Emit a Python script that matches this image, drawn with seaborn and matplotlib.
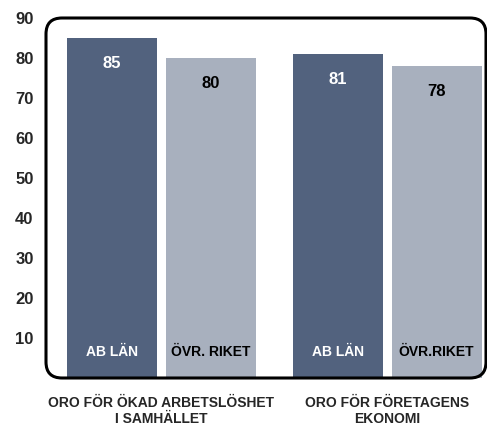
import pandas as pd
import seaborn as sns
import matplotlib.pyplot as plt
from matplotlib.patches import FancyBboxPatch
from matplotlib.transforms import IdentityTransform

categories = ["ORO FÖR ÖKAD ARBETSLÖSHET\nI SAMHÄLLET", "ORO FÖR FÖRETAGENS\nEKONOMI"]
series = ["AB LÄN", "ÖVR. RIKET"]
series_labels = [["AB LÄN", "ÖVR. RIKET"], ["AB LÄN", "ÖVR.RIKET"]]
ab_lan = [85, 81]
ovr_riket = [80, 78]
yticks = [10, 20, 30, 40, 50, 60, 70, 80, 90]

colors = ["#52627E", "#A8B0BE"]
text_colors = ["white", "black"]

df = pd.DataFrame({
    "kategori": categories * 2,
    "serie": [series[0]] * 2 + [series[1]] * 2,
    "varde": ab_lan + ovr_riket,
})

sns.set_style("white")
plt.rcParams["font.family"] = ["Liberation Sans", "DejaVu Sans"]
plt.rcParams["font.weight"] = "bold"

fig = plt.figure(figsize=(4.87, 4.26), dpi=100)
ax = fig.add_axes([46 / 487, 48 / 426, 441 / 487, 360 / 426])

sns.barplot(data=df, x="kategori", y="varde", hue="serie", order=categories,
            hue_order=series, palette=colors, width=0.876, gap=0.09,
            saturation=1, legend=False, linewidth=0, ax=ax)

ax.set_xlim(-0.509, 1.442)
ax.set_ylim(0, 90)
ax.set_yticks(yticks)
ax.set_yticklabels([str(t) for t in yticks], fontsize=12, fontweight="bold")
ax.tick_params(axis="y", length=0, pad=9)
ax.tick_params(axis="x", length=0, pad=13, labelsize=10)
for lbl in ax.get_xticklabels():
    lbl.set_fontweight("bold")
    lbl.set_linespacing(1.2)
ax.set_xlabel("")
ax.set_ylabel("")
for s in ax.spines.values():
    s.set_visible(False)

# value labels at top, series names at bottom
for i, cont in enumerate(ax.containers):
    for j, bar in enumerate(cont):
        x = bar.get_x() + bar.get_width() / 2
        h = bar.get_height()
        ax.text(x, h - 6.5, f"{h:.0f}", ha="center", va="center",
                color=text_colors[i], fontsize=12, fontweight="bold")
        ax.text(x, 6.5, series_labels[j][i], ha="center", va="center",
                color=text_colors[i], fontsize=10, fontweight="bold")

frame = FancyBboxPatch((46, 48), 440, 360, boxstyle="round,pad=0,rounding_size=16",
                       transform=IdentityTransform(), fill=False,
                       edgecolor="black", linewidth=2.2, zorder=5)
fig.patches.append(frame)

fig.savefig("out.png", dpi=100)
